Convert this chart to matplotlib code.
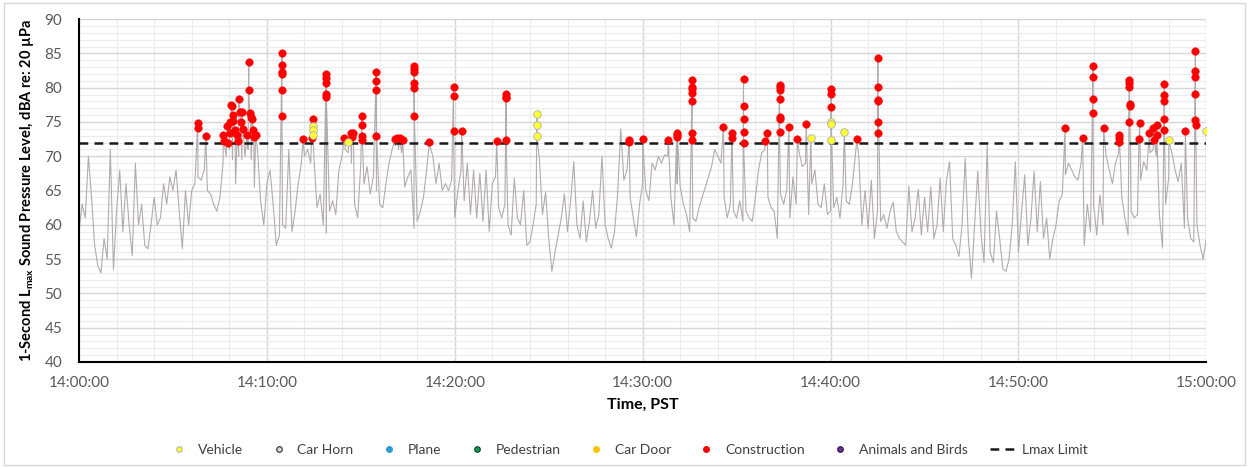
import numpy as np
import matplotlib
matplotlib.use("Agg")
import matplotlib.pyplot as plt
from matplotlib.ticker import MultipleLocator, FuncFormatter
from matplotlib.lines import Line2D
from matplotlib.patches import Rectangle

plt.rcParams['font.family'] = ['Lato', 'DejaVu Sans']
plt.rcParams['mathtext.fontset'] = 'custom'
plt.rcParams['mathtext.rm'] = 'Lato'
plt.rcParams['mathtext.bf'] = 'Lato:bold'

# 1-second Lmax trace, read every 10 s from 14:00:00 (dBA)
lmax_trace = [
    59, 63, 61, 70, 64, 57,
    54, 53, 58, 55, 71, 53.5,
    62, 68, 59, 66, 60, 55.5,
    69, 60, 63, 57, 56.5, 60,
    64, 60, 61, 66, 63, 67,
    65, 68, 62, 56.5, 65, 60,
    65, 66, 67, 66.5, 68, 65,
    64.5, 63, 62, 64, 69, 70,
    71, 69.5, 66, 70, 69.5, 70,
    71, 69.5, 65.5, 71, 63.5, 60,
    66, 68, 63, 57, 58.5, 60,
    59.5, 71, 59, 62, 66, 69,
    70, 71, 69, 70, 62.5, 64.5,
    60, 58.8, 62, 63.5, 61.5, 68,
    70, 71, 70.5, 69, 63, 61,
    69, 66, 68.5, 64.5, 67, 65,
    63, 62.5, 66, 69, 71, 71.5,
    71, 70.5, 65.5, 67, 68, 59.5,
    60.5, 62, 64, 68, 71.5, 70,
    66, 69, 65, 66, 65, 66.5,
    61, 65, 68, 63.5, 69, 61.5,
    68, 61, 67.5, 60.5, 68, 59,
    66, 67, 62.5, 61, 63, 60,
    58.5, 66.8, 61, 60, 65, 57,
    57.5, 60, 63, 69.7, 61.5, 64.8,
    58, 53.2, 56, 58.5, 61, 64.5,
    59, 63.5, 69.2, 60, 58, 63.5,
    57.5, 60.5, 65, 59.5, 61.5, 70,
    60, 58, 56.6, 59, 64.5, 74,
    66.5, 68, 64, 61, 58.3, 63,
    66, 65, 63.5, 69, 68, 70,
    69, 70.2, 70, 64, 60, 66,
    65.5, 63, 61.5, 59, 61, 60.5,
    62.5, 64, 65.5, 67, 68.5, 71,
    70, 69, 64, 61, 63, 62,
    61, 63.5, 60.5, 62, 61, 60.5,
    64, 68, 70.5, 71, 64, 62.5,
    62, 58, 64.5, 63, 65, 61,
    67, 63, 70.5, 68.5, 69, 61.5,
    66, 68, 63, 62.5, 66, 61.5,
    62, 62.5, 64, 61, 66, 63.5,
    63, 66, 70.5, 70, 60, 65,
    59.5, 66.5, 58, 62, 60.5, 61.5,
    59.5, 62, 63.3, 59, 58, 57.5,
    57, 65.6, 59, 61, 65.2, 58.5,
    64, 59, 65.5, 58, 60, 66.8,
    59, 66.5, 69.2, 58, 57, 55.4,
    60, 69.7, 58, 52.2, 60, 67.8,
    59, 54.5, 71.6, 56, 54.5, 62,
    58, 53.6, 53.2, 55, 60, 69.2,
    56, 62, 67.3, 57, 61, 67.8,
    59, 66.3, 58, 61, 55, 58,
    60, 63.5, 64.4, 67.3, 69, 68,
    67, 66.5, 69, 57, 63, 59,
    63, 58.5, 64.4, 60, 70, 68,
    66, 69, 70.5, 64, 61, 58.5,
    62, 61, 61.5, 66.5, 69.2, 68,
    70.5, 71, 70, 61.5, 56.6, 63,
    67, 70.5, 68, 66.3, 69, 59.5,
    61, 58, 57.5, 60, 57, 55,
    58,
]
trace_sec = np.arange(len(lmax_trace)) * 10

# events above the limit: seconds after 14:00:00 and level (dBA)
construction_sec = [
    379, 379, 405, 461, 463, 472, 476, 482, 482, 486, 488, 492, 492, 498,
    505, 508, 510, 514, 516, 521, 524, 537, 542, 542, 545, 548, 553, 557,
    558, 564, 648, 648, 648, 648, 648, 648, 716, 743, 746, 789, 789, 789,
    789, 790, 847, 868, 871, 876, 903, 903, 903, 905, 949, 949, 950, 950,
    1009, 1017, 1025, 1034, 1070, 1070, 1070, 1070, 1070, 1071, 1119, 1196,
    1196, 1196, 1222, 1334, 1364, 1364, 1364, 1364, 1757, 1757, 1800, 1882,
    1909, 1911, 1911, 1958, 1958, 1958, 1958, 1958, 1958, 1958, 2058, 2085,
    2085, 2122, 2122, 2122, 2122, 2122, 2191, 2198, 2237, 2237, 2237, 2237,
    2237, 2237, 2237, 2267, 2294, 2322, 2402, 2402, 2402, 2484, 2551, 2551,
    2551, 2552, 2551, 2551, 3149, 3205, 3238, 3238, 3238, 3238, 3272, 3320,
    3322, 3320, 3354, 3354, 3354, 3355, 3355, 3354, 3385, 3387, 3418, 3431,
    3434, 3442, 3442, 3466, 3466, 3466, 3466, 3466, 3533, 3565, 3565, 3565,
    3565, 3565, 3566,
]
construction_db = [
    74.8, 74.1, 73.0, 73.1, 72.2, 74.4, 72.0, 75.05, 73.4, 77.5, 77.4, 76.0,
    75.2, 73.9, 73.1, 72.2, 78.4, 76.5, 75.0, 76.4, 74.0, 73.1, 83.8, 79.6,
    76.3, 75.7, 75.4, 73.8, 72.8, 73.1, 85.0, 83.3, 82.3, 82.0, 79.7, 75.8,
    72.5, 72.6, 75.4, 82.0, 81.4, 80.65, 79.05, 78.7, 72.7, 73.45, 72.8,
    73.45, 75.9, 74.5, 73.0, 72.3, 82.35, 81.0, 79.6, 73.0, 72.5, 72.6, 72.6,
    72.3, 83.1, 82.7, 82.35, 80.65, 79.9, 75.8, 72.1, 80.1, 78.8, 73.7, 73.7,
    72.2, 79.05, 78.7, 78.5, 72.4, 72.4, 72.1, 72.5, 72.4, 73.45, 73.1, 72.85,
    81.1, 80.1, 79.8, 79.3, 78.1, 73.4, 72.3, 74.3, 73.4, 72.7, 81.2, 77.3,
    75.45, 73.6, 72.0, 72.2, 73.45, 80.4, 80.1, 79.7, 78.4, 75.7, 75.4, 73.6,
    74.2, 72.5, 74.7, 79.8, 79.1, 77.2, 72.5, 84.3, 80.1, 78.2, 78.1, 75.0,
    73.45, 74.1, 72.7, 83.1, 81.5, 78.3, 76.3, 74.1, 72.7, 73.1, 72.1, 81.1,
    80.7, 80.1, 77.6, 77.3, 75.0, 72.5, 74.8, 73.4, 74.1, 72.3, 74.5, 73.1,
    80.55, 79.0, 78.1, 75.4, 73.8, 73.7, 85.3, 82.45, 81.5, 79.1, 75.3, 74.6,
]
vehicle_sec = [747, 747, 746, 860, 1462, 1462, 1462, 2337, 2402, 2402, 2401,
               2444, 3480, 3600]
vehicle_db = [74.4, 73.9, 73.1, 72.1, 76.2, 74.6, 72.9, 72.7, 75.05, 74.7,
              72.3, 73.6, 72.3, 73.7]

lmax_limit = 72

# event points are part of the measured trace, merge them in
all_sec = np.concatenate([trace_sec, construction_sec, vehicle_sec])
all_db = np.concatenate([lmax_trace, construction_db, vehicle_db])
order = np.argsort(all_sec, kind='stable')
all_sec = all_sec[order]
all_db = all_db[order]


def clock(s, pos=None):
    t = 14 * 3600 + int(s)
    return '%d:%02d:%02d' % (t // 3600, (t % 3600) // 60, t % 60)


fig = plt.figure(figsize=(12.54, 4.67), dpi=100)
ax = fig.add_axes([0.063, 0.225, 0.899, 0.734])

ax.plot(all_sec, all_db, color='#b3abae', lw=0.8, zorder=2)
ax.axhline(lmax_limit, color='#1a1a1a', lw=1.8, ls=(0, (3.5, 2.5)), zorder=3)
ax.scatter(construction_sec, construction_db, s=30, color='#ff0000',
           edgecolors='#ff0000', linewidths=0.3, zorder=4)
ax.scatter(vehicle_sec, vehicle_db, s=30, color='#ffff33',
           edgecolors='#b0b0b0', linewidths=0.6, zorder=5)

ax.set_xlim(0, 3600)
ax.set_ylim(40, 90)
ax.xaxis.set_major_locator(MultipleLocator(600))
ax.xaxis.set_minor_locator(MultipleLocator(120))
ax.xaxis.set_major_formatter(FuncFormatter(clock))
ax.yaxis.set_major_locator(MultipleLocator(5))
ax.yaxis.set_minor_locator(MultipleLocator(1))
ax.grid(which='major', color='#d6d6d6', lw=1.0, zorder=0)
ax.grid(which='minor', color='#ececec', lw=0.8, zorder=0)
ax.set_axisbelow(True)
ax.tick_params(which='both', length=0, labelsize=11, labelcolor='#595959')
ax.tick_params(axis='x', pad=10)
ax.tick_params(axis='y', pad=12)
for side in ['top', 'right']:
    ax.spines[side].set_visible(False)
for side in ['left', 'bottom']:
    ax.spines[side].set_color('black')
    ax.spines[side].set_linewidth(1.5)

ax.set_xlabel('Time, PST', fontsize=11.5, fontweight='bold', labelpad=6)
ax.set_ylabel(r'1-Second L$_{\mathbf{max}}$ Sound Pressure Level, dBA re: 20 µPa',
              fontsize=10.5, fontweight='bold', labelpad=6)

handles = [
    Line2D([], [], ls='none', marker='o', ms=4, mfc='#ffff33', mec='#a0a0a0', mew=0.6),
    Line2D([], [], ls='none', marker='o', ms=4, mfc='#d9d9d9', mec='#404040', mew=0.9),
    Line2D([], [], ls='none', marker='o', ms=4, mfc='#3399dd', mec='#3399dd'),
    Line2D([], [], ls='none', marker='o', ms=4, mfc='#00a050', mec='#1a3a1a', mew=0.8),
    Line2D([], [], ls='none', marker='o', ms=4, mfc='#ffc000', mec='#ffc000'),
    Line2D([], [], ls='none', marker='o', ms=4, mfc='#ff0000', mec='#ff0000'),
    Line2D([], [], ls='none', marker='o', ms=4, mfc='#7030a0', mec='#2a1040', mew=0.8),
    Line2D([], [], color='#1a1a1a', lw=1.8, ls=(0, (3.5, 2.5))),
]
labels = ['Vehicle', 'Car Horn', 'Plane', 'Pedestrian', 'Car Door',
          'Construction', 'Animals and Birds', 'Lmax Limit']
fig.legend(handles, labels, loc='center', bbox_to_anchor=(0.5, 0.036),
           ncol=8, frameon=False, fontsize=10, handlelength=1.9,
           handletextpad=0.4, columnspacing=1.6, labelcolor='#404040')

fig.patches.append(Rectangle((0.003, 0.004), 0.99, 0.99, transform=fig.transFigure,
                             fill=False, edgecolor='#d9d9d9', lw=1.0))

fig.savefig('out.png', dpi=100)
